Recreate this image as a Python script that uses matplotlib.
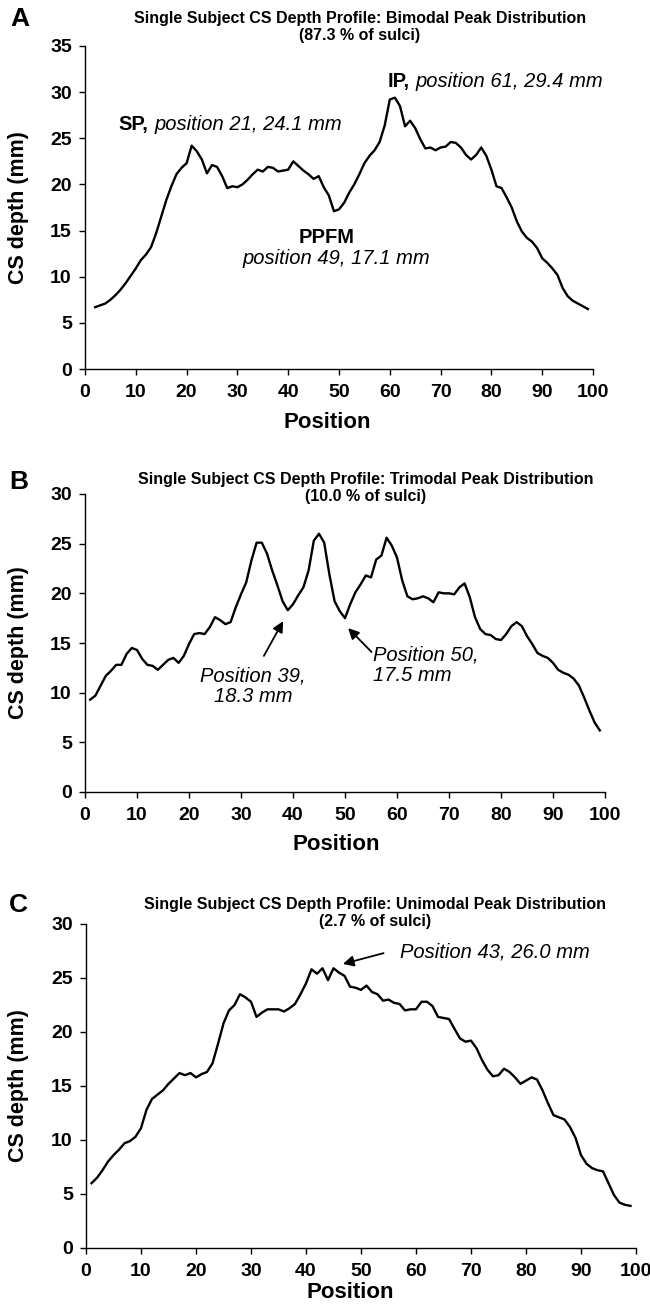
import numpy as np
import matplotlib
matplotlib.use('Agg')
from matplotlib import pyplot as plt

plt.rcParams['font.family'] = ['Liberation Sans', 'DejaVu Sans']

W, H = 650, 1310

# panel A: bimodal profile (positions 2..99)
pos_a = np.arange(2, 100)
depth_a = [6.7, 6.9, 7.1, 7.5, 8.0, 8.6, 9.3, 10.1, 10.9, 11.8,
           12.4, 13.2, 14.7, 16.5, 18.3, 19.8, 21.1, 21.8, 22.3, 24.2,
           23.6, 22.7, 21.2, 22.1, 21.9, 20.9, 19.6, 19.8, 19.7, 20.0,
           20.5, 21.1, 21.6, 21.4, 21.9, 21.8, 21.4, 21.5, 21.6, 22.5,
           22.0, 21.5, 21.1, 20.6, 20.9, 19.7, 18.8, 17.1, 17.3, 18.0,
           19.1, 20.0, 21.1, 22.3, 23.1, 23.7, 24.6, 26.4, 29.2, 29.4,
           28.5, 26.3, 26.9, 26.1, 24.9, 23.9, 24.0, 23.7, 24.0, 24.1,
           24.6, 24.5, 24.0, 23.2, 22.7, 23.2, 24.0, 23.1, 21.6, 19.8,
           19.6, 18.6, 17.5, 16.0, 14.9, 14.2, 13.8, 13.1, 12.0, 11.5,
           10.9, 10.2, 8.8, 7.9, 7.4, 7.1, 6.8, 6.5]

# panel B: trimodal profile (positions 1..99)
pos_b = np.arange(1, 100)
depth_b = [9.3, 9.7, 10.7, 11.7, 12.2, 12.8, 12.8, 13.9, 14.5, 14.3,
           13.4, 12.8, 12.7, 12.3, 12.8, 13.3, 13.5, 13.0, 13.7, 14.9,
           15.9, 16.0, 15.9, 16.6, 17.6, 17.3, 16.9, 17.1, 18.6, 19.9,
           21.1, 23.3, 25.1, 25.1, 24.0, 22.3, 20.8, 19.2, 18.3, 18.9,
           19.8, 20.6, 22.3, 25.3, 26.0, 25.1, 21.9, 19.2, 18.2, 17.5,
           18.9, 20.1, 20.9, 21.8, 21.6, 23.4, 23.8, 25.6, 24.8, 23.6,
           21.3, 19.7, 19.4, 19.5, 19.7, 19.5, 19.1, 20.1, 20.0, 20.0,
           19.9, 20.6, 21.0, 19.6, 17.6, 16.4, 15.9, 15.8, 15.4, 15.3,
           15.9, 16.7, 17.1, 16.7, 15.7, 14.9, 14.0, 13.7, 13.5, 13.0,
           12.3, 12.0, 11.8, 11.4, 10.7, 9.5, 8.2, 7.0, 6.2]

# panel C: unimodal profile (positions 1..99)
pos_c = np.arange(1, 100)
depth_c = [6.0, 6.5, 7.2, 8.0, 8.6, 9.1, 9.7, 9.9, 10.3, 11.1,
           12.8, 13.8, 14.2, 14.6, 15.2, 15.7, 16.2, 16.0, 16.2, 15.8,
           16.1, 16.3, 17.1, 18.9, 20.8, 22.0, 22.5, 23.5, 23.2, 22.8,
           21.4, 21.8, 22.1, 22.1, 22.1, 21.9, 22.2, 22.6, 23.5, 24.5,
           25.8, 25.4, 25.9, 24.8, 25.9, 25.5, 25.2, 24.2, 24.1, 23.9,
           24.3, 23.7, 23.5, 22.9, 23.0, 22.7, 22.6, 22.0, 22.1, 22.1,
           22.8, 22.8, 22.4, 21.4, 21.3, 21.2, 20.3, 19.4, 19.1, 19.2,
           18.5, 17.4, 16.5, 15.9, 16.0, 16.6, 16.3, 15.8, 15.2, 15.5,
           15.8, 15.6, 14.6, 13.4, 12.3, 12.1, 11.9, 11.2, 10.2, 8.6,
           7.8, 7.4, 7.2, 7.1, 6.0, 4.9, 4.2, 4.0, 3.9]

titles = ['Single Subject CS Depth Profile: Bimodal Peak Distribution\n(87.3 % of sulci)',
          'Single Subject CS Depth Profile: Trimodal Peak Distribution\n(10.0 % of sulci)',
          'Single Subject CS Depth Profile: Unimodal Peak Distribution\n(2.7 % of sulci)']
letters = ['A', 'B', 'C']
y_max = [35, 30, 30]


def fx(x):
    return x / W


def fy(y):
    return 1 - y / H


def make_axes(fig, left, right, top, bottom):
    ax = fig.add_axes([fx(left), fy(bottom), (right - left) / W, (bottom - top) / H])
    return ax


def style_axes(ax, ymax):
    ax.set_xlim(0, 100)
    ax.set_ylim(0, ymax)
    ax.set_xticks(np.arange(0, 101, 10))
    ax.set_yticks(np.arange(0, ymax + 1, 5))
    for s in ['top', 'right']:
        ax.spines[s].set_visible(False)
    for s in ['left', 'bottom']:
        ax.spines[s].set_linewidth(1.0)
    ax.tick_params(direction='out', length=4.5, width=1, labelsize=14)
    ax.tick_params(axis='x', pad=6)
    ax.tick_params(axis='y', pad=5)
    for lab in ax.get_xticklabels() + ax.get_yticklabels():
        lab.set_fontweight('bold')


fig = plt.figure(figsize=(W / 100, H / 100), dpi=100)

# (left, right, top, bottom) in pixels, title centre, label positions
boxes = [(85, 593, 46, 369), (85, 605, 494, 792), (86, 636, 924, 1248)]
title_xy = [(360, 27), (366, 488), (375, 913)]
letter_xy = [(10, 19), (9, 482), (9, 905)]
xlabel_xy = [(327, 412), (336, 834), (350, 1282)]   # top of the label

axes = []
for i, (pos, dep) in enumerate([(pos_a, depth_a), (pos_b, depth_b), (pos_c, depth_c)]):
    left, right, top, bottom = boxes[i]
    ax = make_axes(fig, left, right, top, bottom)
    ax.plot(pos, dep, color='black', lw=1.7, solid_joinstyle='round')
    style_axes(ax, y_max[i])
    ax.set_xlabel('Position', fontsize=16, fontweight='bold')
    ax.set_ylabel('CS depth (mm)', fontsize=15.5, fontweight='bold')
    ax.xaxis.set_label_coords(fx(xlabel_xy[i][0]), fy(xlabel_xy[i][1]), transform=fig.transFigure)
    ax.yaxis.set_label_coords(fx(29), fy((top + bottom) / 2), transform=fig.transFigure)
    fig.text(fx(title_xy[i][0]), fy(title_xy[i][1]), titles[i], ha='center', va='center',
             fontsize=11.5, fontweight='bold', linespacing=1.1)
    fig.text(fx(letter_xy[i][0]), fy(letter_xy[i][1]), letters[i], ha='left', va='center',
             fontsize=19, fontweight='bold')
    axes.append(ax)

ax_a, ax_b, ax_c = axes

# panel A labels
ax_a.text(6.5, 26.5, 'SP,', fontsize=14.5, fontweight='bold', va='center', ha='left')
ax_a.text(13.6, 26.5, 'position 21, 24.1 mm', fontsize=14.5, style='italic', va='center', ha='left')
ax_a.text(59.6, 31.1, 'IP,', fontsize=14.5, fontweight='bold', va='center', ha='left')
ax_a.text(65.0, 31.1, 'position 61, 29.4 mm', fontsize=14.5, style='italic', va='center', ha='left')
ax_a.text(47.6, 14.3, 'PPFM', fontsize=14.5, fontweight='bold', va='center', ha='center')
ax_a.text(49.5, 12.0, 'position 49, 17.1 mm', fontsize=14.5, style='italic', va='center', ha='center')

# panel B labels
arrow = dict(arrowstyle='-|>', color='black', lw=1.3, mutation_scale=16, shrinkA=0, shrinkB=0)
ax_b.annotate('', xy=(38.1, 17.2), xytext=(34.4, 13.7), arrowprops=arrow)
ax_b.text(32.3, 10.65, 'Position 39,\n18.3 mm', fontsize=14.5, style='italic',
          ha='center', va='center', linespacing=1.1)
ax_b.annotate('', xy=(50.6, 16.5), xytext=(55.1, 14.1), arrowprops=arrow)
ax_b.text(55.4, 12.75, 'Position 50,\n17.5 mm', fontsize=14.5, style='italic',
          ha='left', va='center', linespacing=1.1)

# panel C label
ax_c.annotate('', xy=(46.7, 26.3), xytext=(54.1, 27.3), arrowprops=arrow)
ax_c.text(57.0, 27.4, 'Position 43, 26.0 mm', fontsize=14.5, style='italic', ha='left', va='center')

fig.savefig('out.png', dpi=100)
